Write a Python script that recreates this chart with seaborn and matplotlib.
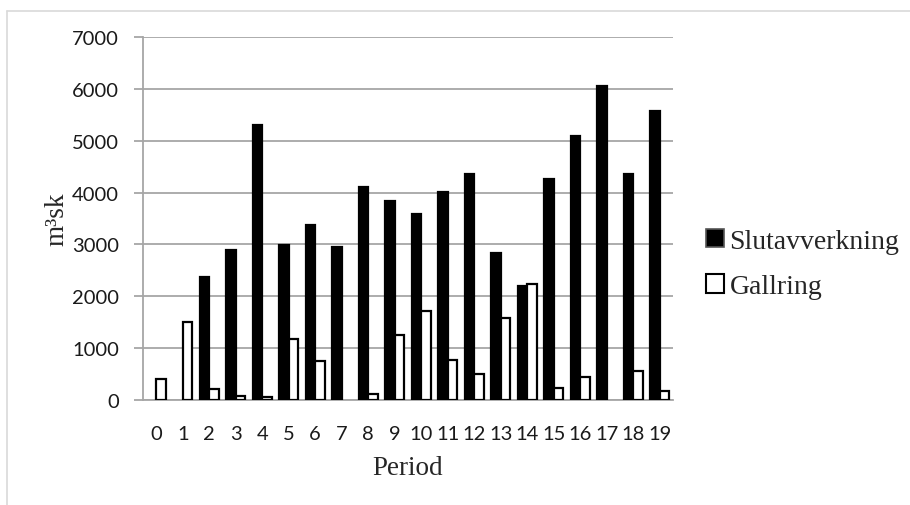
import matplotlib
matplotlib.use("Agg")
import matplotlib.pyplot as plt
import seaborn as sns
import pandas as pd
from matplotlib.patches import Patch
from matplotlib.lines import Line2D

periods = [str(i) for i in range(20)]
slutavverkning = [0, 0, 2370, 2890, 5300, 2990, 3380, 2950, 4100, 3830,
                  3580, 4010, 4350, 2840, 2200, 4270, 5090, 6050, 4350, 5580]
gallring = [410, 1500, 210, 80, 55, 1170, 760, 0, 125, 1260,
            1720, 780, 500, 1590, 2240, 235, 450, 0, 560, 175]
series_names = ["Slutavverkning", "Gallring"]
yticks = [0, 1000, 2000, 3000, 4000, 5000, 6000, 7000]

df = pd.DataFrame({
    "Period": periods * 2,
    "value": slutavverkning + gallring,
    "serie": [series_names[0]] * 20 + [series_names[1]] * 20,
})

sns.set_style("white")
serif = ["Liberation Serif", "DejaVu Serif"]
sans = ["Lato", "DejaVu Sans"]

fig = plt.figure(figsize=(9.10, 5.06), dpi=100)
ax = fig.add_axes([143 / 910, 1 - 401 / 506, 530 / 910, 363 / 506])

sns.barplot(data=df, x="Period", y="value", hue="serie", order=periods,
            hue_order=series_names, palette=["#000000", "#ffffff"],
            width=0.72, edgecolor="black", linewidth=1.6, legend=False,
            errorbar=None, ax=ax, zorder=3)
# zero-height bars are not visible in the reference
for p in ax.patches:
    if p.get_height() == 0:
        p.set_linewidth(0)

ax.set_ylim(0, 7000)
ax.set_xlim(-0.5, 19.5)
ax.set_yticks(yticks)
ax.set_yticklabels([str(v) for v in yticks])
ax.yaxis.grid(True, color="#a6a6a6", linewidth=1.3, zorder=0)
ax.xaxis.grid(False)
for side in ["top", "right"]:
    ax.spines[side].set_visible(False)
for side in ["left", "bottom"]:
    ax.spines[side].set_color("#a6a6a6")
    ax.spines[side].set_linewidth(1.3)
ax.tick_params(axis="y", length=6.5, width=1.3, color="#a6a6a6", pad=10.8,
               left=True, labelsize=14.5)
ax.tick_params(axis="x", length=0, pad=18, labelsize=14.5)
for lab in ax.get_xticklabels() + ax.get_yticklabels():
    lab.set_family(sans)
    lab.set_color("#1a1a1a")

ax.set_xlabel("Period", family=serif, fontsize=19.5, labelpad=9.5)
ax.set_ylabel("m³sk", family=serif, fontsize=19.5, labelpad=1.5)

handles = [Patch(facecolor="#000000", edgecolor="#555555", linewidth=1.2),
           Patch(facecolor="#ffffff", edgecolor="#000000", linewidth=1.5)]
fig.legend(handles, series_names, loc="center left",
           bbox_to_anchor=(706 / 910, 1 - 265 / 506), frameon=False,
           prop={"family": serif, "size": 20}, handlelength=0.65,
           handleheight=0.65, handletextpad=0.2, labelspacing=0.75,
           borderpad=0, borderaxespad=0)

# chart-area border
fig.add_artist(Line2D([7 / 910, 1.0], [1 - 12 / 506, 1 - 12 / 506],
                      transform=fig.transFigure, color="#d9d9d9", linewidth=1.2))
fig.add_artist(Line2D([7 / 910, 7 / 910], [0, 1 - 12 / 506],
                      transform=fig.transFigure, color="#d9d9d9", linewidth=1.2))

fig.savefig("out.png", dpi=100)
